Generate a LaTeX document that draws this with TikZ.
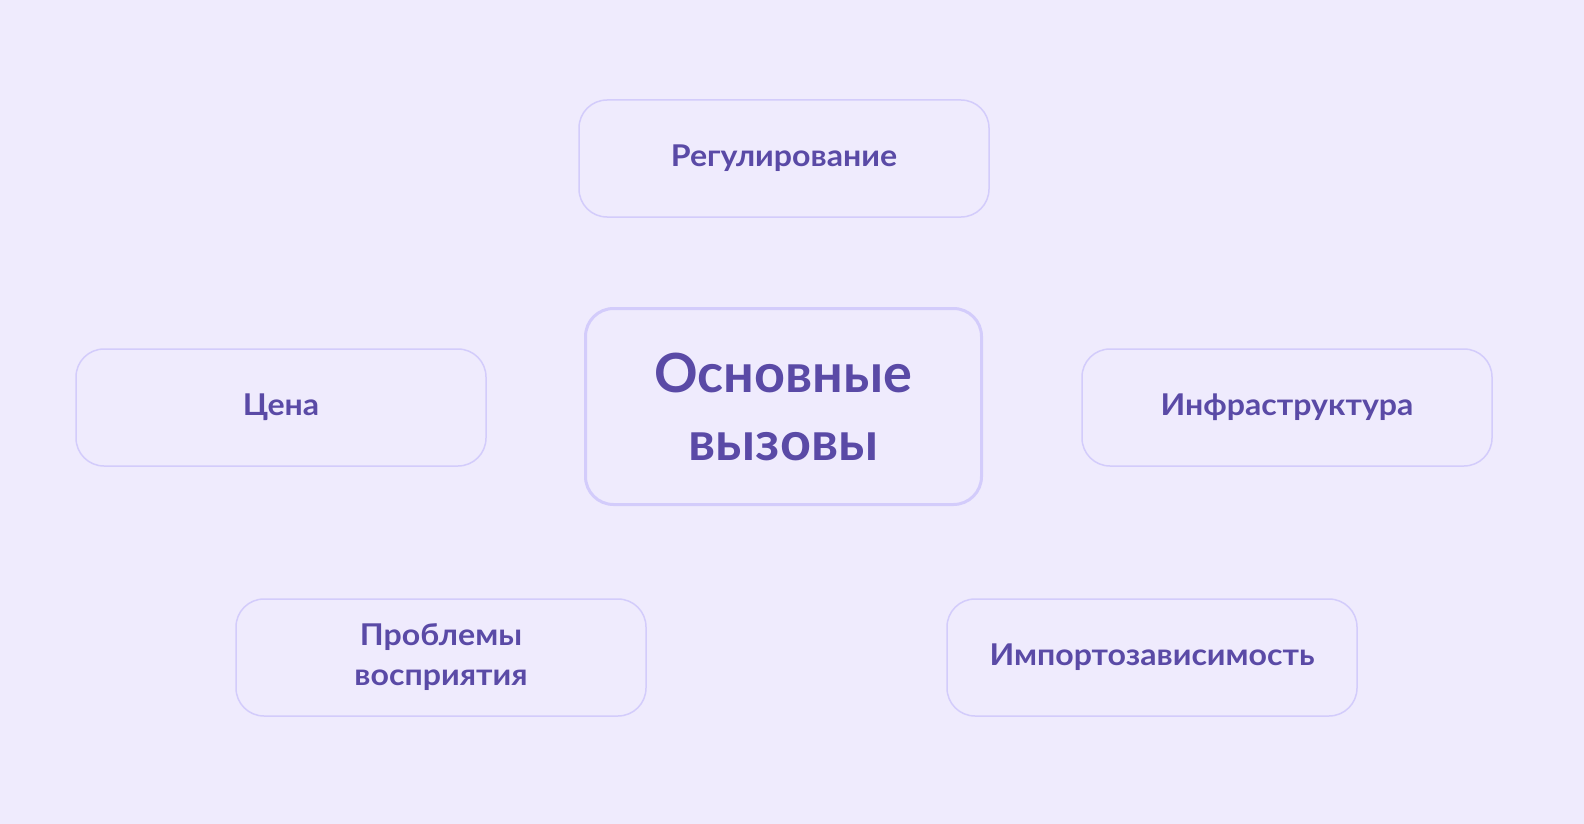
\documentclass[tikz,border=0pt]{standalone}
\usepackage{fontspec}
\setmainfont{Lato}
\newfontfamily\widelato{Lato}[FakeStretch=1.07]
\definecolor{bgfill}{HTML}{EFEBFD}
\definecolor{boxline}{HTML}{D3CCFB}
\definecolor{textcol}{HTML}{5A4AA6}
\begin{document}
\begin{tikzpicture}[x=1pt,y=-1pt,
  every node/.style={font=\widelato\bfseries\fontsize{30}{40}\selectfont, text=textcol, align=center},
  challenge/.style={draw=boxline, line width=1.5pt, fill=bgfill, rounded corners=28pt,
    minimum width=410pt, minimum height=117pt, inner sep=0pt},
  mainbox/.style={draw=boxline, line width=3pt, fill=bgfill, rounded corners=28pt,
    minimum width=396pt, minimum height=196pt, inner sep=0pt,
    font=\bfseries\fontsize{54}{68}\selectfont}]
   \fill[bgfill] (0,0) rectangle (1584,824);
   \useasboundingbox (0,0) rectangle (1584,824);
   \node[mainbox] (main) at (783.5,406.5) {Основные\\вызовы};
   \node[challenge] (reg) at (784,158.5) {Регулирование};
   \node[challenge] (price) at (281,407.5) {Цена};
   \node[challenge] (infra) at (1287,407.5) {Инфраструктура};
   \node[challenge] (percep) at (441,657.5) {Проблемы\\восприятия};
   \node[challenge] (import) at (1152,657.5) {Импортозависимость};
\end{tikzpicture}
\end{document}
